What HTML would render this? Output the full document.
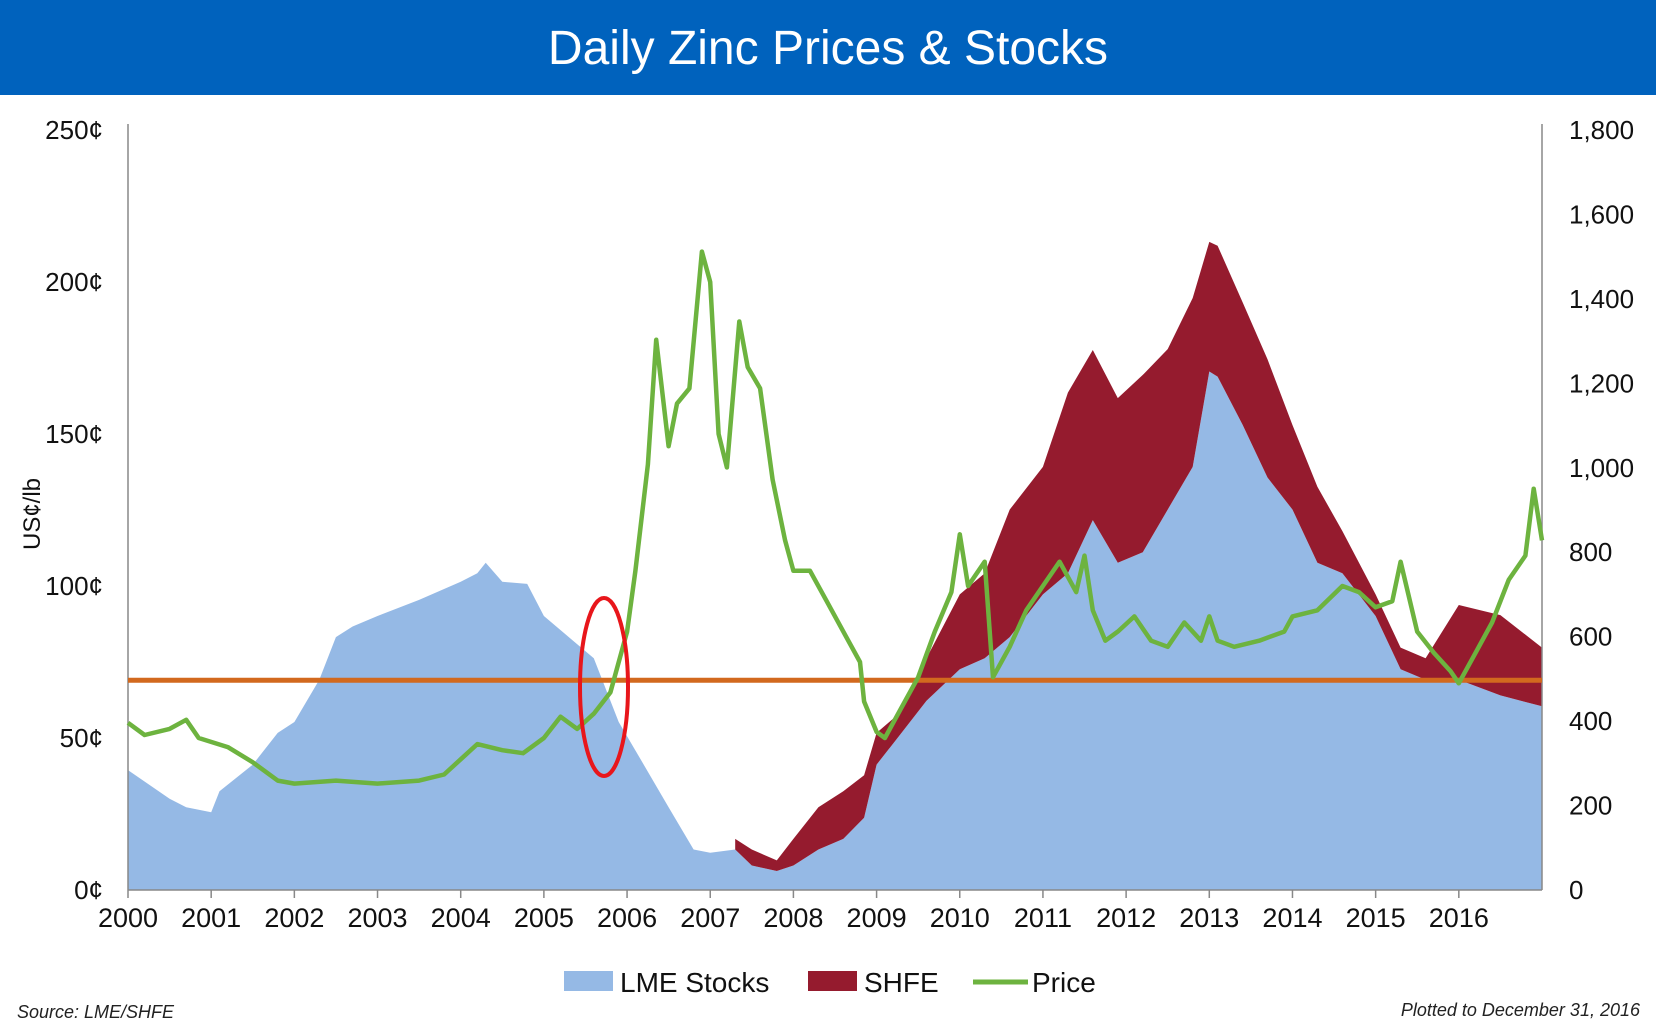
<!DOCTYPE html>
<html><head><meta charset="utf-8"><style>
html,body{margin:0;padding:0;background:#fff;}
body{width:1663px;height:1024px;overflow:hidden;position:relative;font-family:"Liberation Sans",sans-serif;}
#hdr{position:absolute;left:0;top:0;width:1656px;height:95px;background:#0062bd;color:#fff;font-size:48px;text-align:center;line-height:98px;}
svg{position:absolute;left:0;top:0;}
</style></head><body>
<div id="hdr">Daily Zinc Prices &amp; Stocks</div>
<svg id="chart" width="1663" height="1024"></svg>
<script>
const years=[2000,2001,2002,2003,2004,2005,2006,2007,2008,2009,2010,2011,2012,2013,2014,2015,2016];
const priceTicks=[0,50,100,150,200,250];
const stockTicks=[0,200,400,600,800,1000,1200,1400,1600,1800];
const priceDates=[2000.0,2000.2,2000.5,2000.7,2000.85,2001.2,2001.5,2001.8,2002.0,2002.5,2003.0,2003.5,2003.8,2004.0,2004.2,2004.5,2004.75,2005.0,2005.2,2005.4,2005.6,2005.8,2006.0,2006.1,2006.25,2006.35,2006.5,2006.6,2006.75,2006.9,2007.0,2007.1,2007.2,2007.35,2007.45,2007.6,2007.75,2007.9,2008.0,2008.2,2008.4,2008.6,2008.8,2008.85,2009.0,2009.1,2009.3,2009.5,2009.7,2009.9,2010.0,2010.1,2010.3,2010.4,2010.6,2010.8,2011.0,2011.2,2011.4,2011.5,2011.6,2011.75,2011.9,2012.1,2012.3,2012.5,2012.7,2012.9,2013.0,2013.1,2013.3,2013.6,2013.9,2014.0,2014.3,2014.6,2014.8,2015.0,2015.2,2015.3,2015.5,2015.7,2015.9,2016.0,2016.2,2016.4,2016.6,2016.8,2016.9,2017.0];
const priceValues=[55,51,53,56,50,47,42,36,35,36,35,36,38,43,48,46,45,50,57,53,58,65,85,105,140,181,146,160,165,210,200,150,139,187,172,165,135,115,105,105,95,85,75,62,52,50,60,70,85,98,117,100,108,70,80,92,100,108,98,110,92,82,85,90,82,80,88,82,90,82,80,82,85,90,92,100,98,93,95,108,85,78,72,68,78,88,102,110,132,115];
const stockDates=[2000.0,2000.5,2000.7,2001.0,2001.1,2001.5,2001.8,2002.0,2002.3,2002.5,2002.7,2003.0,2003.5,2004.0,2004.2,2004.3,2004.5,2004.8,2005.0,2005.3,2005.6,2005.9,2006.2,2006.5,2006.8,2007.0,2007.3,2007.5,2007.8,2008.0,2008.3,2008.6,2008.85,2009.0,2009.3,2009.6,2010.0,2010.3,2010.6,2011.0,2011.3,2011.6,2011.9,2012.2,2012.5,2012.8,2013.0,2013.1,2013.4,2013.7,2014.0,2014.3,2014.6,2015.0,2015.3,2015.6,2016.0,2016.5,2017.0];
const lmeValues=[284,216,196,184,234,297,372,398,498,599,624,649,687,730,750,775,730,725,649,599,549,398,297,196,96,88,96,58,45,58,96,121,171,297,372,448,523,549,599,700,750,876,775,800,901,1002,1228,1216,1102,977,901,775,750,649,523,498,498,461,435];
const shfeValues=[null,null,null,null,null,null,null,null,null,null,null,null,null,null,null,null,null,null,null,null,null,null,null,null,null,null,25,38,25,63,100,113,101,75,51,101,177,201,302,302,428,403,390,420,380,400,307,310,290,280,200,180,100,51,51,51,177,190,139];
const refPrice=69;

const NS="http://www.w3.org/2000/svg";
const svg=document.getElementById('chart');
const X0=128,X1=1542,Y0=890,Y1=130;
const xs=t=>X0+(t-2000)/17*(X1-X0);
const yp=v=>Y0-v/250*(Y0-Y1);
const ys=v=>Y0-v/1800*(Y0-Y1);
function mk(tag,attrs,parent){const el=document.createElementNS(NS,tag);for(const k in attrs)el.setAttribute(k,attrs[k]);(parent||svg).appendChild(el);return el;}

let el;
let pd=`M${xs(stockDates[0])},${Y0}`;
stockDates.forEach((t,i)=>{pd+=` L${xs(t).toFixed(1)},${ys(lmeValues[i]).toFixed(1)}`;});
pd+=` L${xs(2017)},${ys(lmeValues[lmeValues.length-1])} L${xs(2017)},${Y0} Z`;
el=mk('path',{d:pd,fill:'#95b9e5'});



const upperPts=[],lowerPts=[];
stockDates.forEach((t,i)=>{if(shfeValues[i]!==null){upperPts.push([xs(t),ys(lmeValues[i]+shfeValues[i])]);lowerPts.push([xs(t),ys(lmeValues[i])]);}});
pd='M'+upperPts.map(p=>p[0].toFixed(1)+','+p[1].toFixed(1)).join(' L')+' L'+lowerPts.reverse().map(p=>p[0].toFixed(1)+','+p[1].toFixed(1)).join(' L')+' Z';
el=mk('path',{d:pd,fill:'#951b2e'});



el=mk('line',{x1:X0,y1:Y1-6,x2:X0,y2:Y0,stroke:'#888','stroke-width':1.5});


el=mk('line',{x1:X1,y1:Y1-6,x2:X1,y2:Y0,stroke:'#888','stroke-width':1.5});


el=mk('line',{x1:X0,y1:Y0,x2:X1,y2:Y0,stroke:'#888','stroke-width':1.5});



years.forEach(yr=>{
  const l=mk('line',{x1:xs(yr),y1:Y0,x2:xs(yr),y2:Y0+8,stroke:'#888','stroke-width':1.5});
  
  
  const t=mk('text',{x:xs(yr),y:Y0+37,'font-size':27,'text-anchor':'middle',fill:'#111'});
  t.textContent=yr;
  
  
});
priceTicks.forEach(v=>{
  const t=mk('text',{x:103,y:yp(v)+9,'font-size':26,'text-anchor':'end',fill:'#111'});
  t.textContent=v+'¢';
  
  
});
stockTicks.forEach(v=>{
  const t=mk('text',{x:1569,y:ys(v)+9,'font-size':26,'text-anchor':'start',fill:'#111'});
  t.textContent=v.toLocaleString('en-US');
  
  
});
el=mk('text',{x:0,y:0,'font-size':24,'text-anchor':'middle',fill:'#111',transform:'translate(40,514) rotate(-90)'});
el.textContent='US¢/lb';



el=mk('line',{x1:X0,y1:yp(refPrice),x2:X1,y2:yp(refPrice),stroke:'#d2691e','stroke-width':5});



pd='M'+priceDates.map((t,i)=>xs(t).toFixed(1)+','+yp(priceValues[i]).toFixed(1)).join(' L');
el=mk('path',{d:pd,fill:'none',stroke:'#6db33f','stroke-width':4.5,'stroke-linejoin':'round'});



el=mk('ellipse',{cx:604,cy:687,rx:24,ry:89,fill:'none',stroke:'#e8161b','stroke-width':4});



const lg=mk('g',{});


el=mk('rect',{x:564,y:971,width:49,height:20,fill:'#95b9e5'},lg);


el=mk('text',{x:620,y:992,'font-size':28,fill:'#111'},lg);el.textContent='LME Stocks';


el=mk('rect',{x:808,y:971,width:49,height:20,fill:'#951b2e'},lg);


el=mk('text',{x:864,y:992,'font-size':28,fill:'#111'},lg);el.textContent='SHFE';


el=mk('line',{x1:973,y1:982,x2:1028,y2:982,stroke:'#6db33f','stroke-width':5},lg);


el=mk('text',{x:1032,y:992,'font-size':28,fill:'#111'},lg);el.textContent='Price';



el=mk('text',{x:17,y:1018,'font-size':18,'font-style':'italic',fill:'#222'});el.textContent='Source: LME/SHFE';


el=mk('text',{x:1640,y:1016,'font-size':18,'font-style':'italic','text-anchor':'end',fill:'#222'});el.textContent='Plotted to December 31, 2016';


</script>
</body></html>
